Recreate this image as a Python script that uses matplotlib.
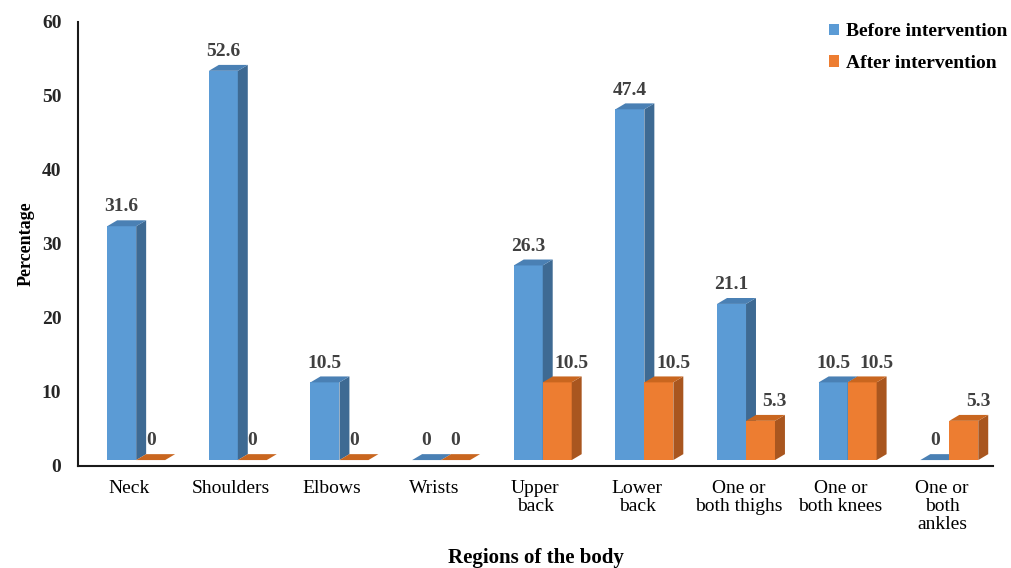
import numpy as np
import matplotlib.pyplot as plt
from matplotlib.patches import Polygon, Patch

plt.rcParams['font.family'] = ['Liberation Serif', 'DejaVu Serif']

# Data
regions = ['Neck', 'Shoulders', 'Elbows', 'Wrists', 'Upper\nback', 'Lower\nback',
           'One or\nboth thighs', 'One or\nboth knees', 'One or\nboth\nankles']
before = [31.6, 52.6, 10.5, 0, 26.3, 47.4, 21.1, 10.5, 0]
after = [0, 0, 0, 0, 10.5, 10.5, 5.3, 10.5, 5.3]
series_names = ['Before intervention', 'After intervention']

# colours: front, side, top
blue = ('#5B9BD5', '#3E6A93', '#4A80B4')
orange = ('#ED7D31', '#A9561F', '#C9661F')

fig = plt.figure(figsize=(10.11, 5.68), dpi=100)
ax = fig.add_axes([0.0772, 0.1796, 0.9048, 0.7817])

x = np.arange(len(regions))
w = 0.285          # bar width
dx, dy = 0.098, 0.8  # fake 3d depth (data units)
shift = -0.5 + 0.287  # left edge of the blue bar inside each slot


def draw_3d(lefts, vals, cols, lab_dx=0.0):
    ax.bar(lefts, vals, width=w, bottom=dy, align='edge', color=cols[0],
           edgecolor='none', zorder=2)
    for l, v in zip(lefts, vals):
        b = dy
        side = [(l + w, b), (l + w + dx, b + dy), (l + w + dx, b + dy + v), (l + w, b + v)]
        top = [(l, b + v), (l + dx, b + dy + v), (l + w + dx, b + dy + v), (l + w, b + v)]
        if v > 0:
            ax.add_patch(Polygon(side, closed=True, facecolor=cols[1], edgecolor='none', zorder=2))
        ax.add_patch(Polygon(top, closed=True, facecolor=cols[2], edgecolor='none', zorder=2))
        off = lab_dx if v > 0 else 0.0
        ax.text(l + w / 2 + off, v + 2 * dy + 1.8, f'{v:g}', ha='center', va='center',
                fontsize=14, fontweight='bold', color='#404040', zorder=3)


for i in range(len(regions)):
    draw_3d([x[i] + shift], [before[i]], blue)
    draw_3d([x[i] + shift + w], [after[i]], orange, lab_dx=0.14)

ax.set_xlim(-0.5, len(regions) - 0.5)
ax.set_ylim(0, 60)
ax.set_yticks(range(0, 61, 10))
ax.set_xticks(x)
ax.set_xticklabels(regions, fontsize=14, linespacing=1.1)
ax.tick_params(axis='y', length=0, pad=12, labelsize=14)
ax.tick_params(axis='x', length=0, pad=10)
for t in ax.get_yticklabels():
    t.set_fontweight('bold')
    t.set_color('#262626')

for s in ['top', 'right']:
    ax.spines[s].set_visible(False)
for s in ['left', 'bottom']:
    ax.spines[s].set_linewidth(1.5)
    ax.spines[s].set_color('#1a1a1a')

ax.set_ylabel('Percentage', fontsize=13, fontweight='bold', labelpad=5)
fig.text(0.5297, 1 - 558 / 568, 'Regions of the body', ha='center', va='center',
         fontsize=15, fontweight='bold')

handles = [Patch(facecolor=blue[0]), Patch(facecolor=orange[0])]
fig.legend(handles, series_names, loc='upper left', bbox_to_anchor=(0.810, 0.976),
           frameon=False, prop={'weight': 'bold', 'size': 14}, handlelength=0.55,
           handleheight=0.55, handletextpad=0.35, labelspacing=0.75, borderpad=0)

fig.savefig('out.png', dpi=100)
